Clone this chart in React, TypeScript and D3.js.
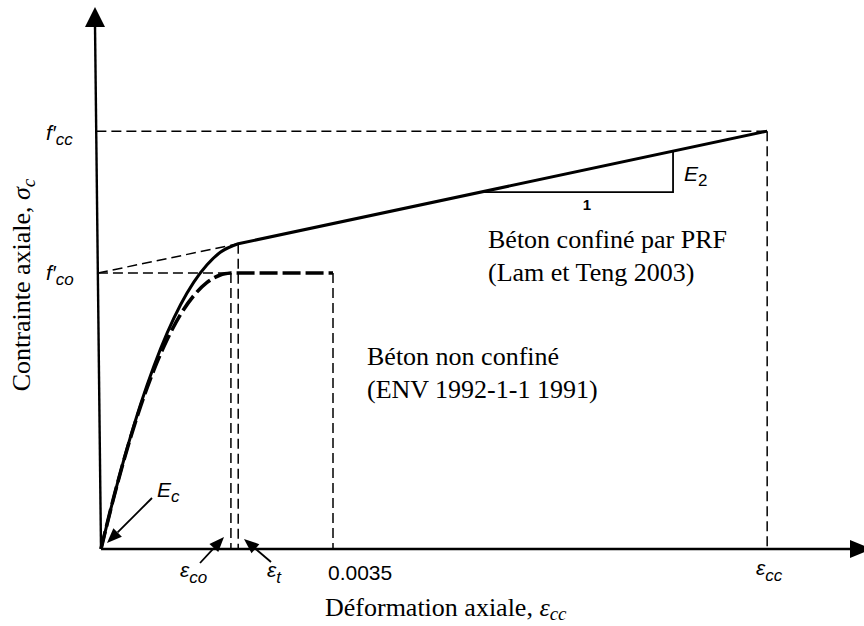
import React from "react";
import * as d3 from "d3";

const W = 864;
const H = 626;

// Confined concrete (Lam & Teng 2003) – strain vs normalized stress (f/f'co)
const confinedStrain = [0, 0.0002, 0.0004, 0.0006, 0.0008, 0.001, 0.0012, 0.0014, 0.0016, 0.0018, 0.00207];
const confinedStress = [0, 0.194, 0.37, 0.526, 0.664, 0.784, 0.885, 0.967, 1.03, 1.075, 1.106];
// Unconfined concrete (ENV 1992-1-1 1991)
const unconfinedStrain = [0, 0.0002, 0.0004, 0.0006, 0.0008, 0.001, 0.0012, 0.0014, 0.0016, 0.0018, 0.00196];
const unconfinedStress = [0, 0.194, 0.367, 0.519, 0.65, 0.76, 0.85, 0.918, 0.966, 0.993, 1.0];

// Key strains / stresses
const epsCo = 0.00196;
const epsT = 0.00207;
const epsU = 0.0035;
const epsCc = 0.01005;
const fco = 1.0;
const fT = 1.106;
const fcc = 1.514;
// slope triangle (E2) : strains and stresses
const triStrain = [0.00574, 0.00863];
const triStress = [1.293, 1.441];

const serif = "'Liberation Serif', 'Times New Roman', serif";
const sans = "'Liberation Sans', Arial, Helvetica, sans-serif";

function Arrow({ x1, y1, x2, y2, w = 1.8 }: { x1: number; y1: number; x2: number; y2: number; w?: number }) {
  const ang = Math.atan2(y2 - y1, x2 - x1);
  const L = 15;
  const hw = 6;
  const bx = x2 - L * Math.cos(ang);
  const by = y2 - L * Math.sin(ang);
  const px = -Math.sin(ang) * hw;
  const py = Math.cos(ang) * hw;
  return (
    <g>
      <line x1={x1} y1={y1} x2={bx} y2={by} stroke="#000" strokeWidth={w} />
      <polygon points={`${x2},${y2} ${bx + px},${by + py} ${bx - px},${by - py}`} fill="#000" />
    </g>
  );
}

export default function App() {
  const x = d3.scaleLinear().domain([0, 0.0035]).range([101, 333]);
  const y = d3.scaleLinear().domain([0, 1]).range([549, 273]);

  const line = d3
    .line<[number, number]>()
    .x((d) => x(d[0]))
    .y((d) => y(d[1]))
    .curve(d3.curveMonotoneX);

  const confPts: [number, number][] = confinedStrain.map((e, i) => [e, confinedStress[i]]);
  const unconfPts: [number, number][] = unconfinedStrain.map((e, i) => [e, unconfinedStress[i]]);

  const confPath = (line(confPts) as string) + `L${x(epsCc)},${y(fcc)}`;
  const unconfPath = (line(unconfPts) as string) + `L${x(epsU)},${y(fco)}`;

  const x0 = x(0);
  const y0 = y(0);
  // y axis (slightly tilted as in the scanned figure)
  const axTopX = x0 - 6;
  const axTopY = 7;
  const axisXAt = (yy: number) => x0 - 6 * (y0 - yy) / (y0 - axTopY);

  const thin = { stroke: "#000", strokeWidth: 1.5, strokeDasharray: "10,5", fill: "none" };

  return (
    <svg
      width={W}
      height={H}
      viewBox={`0 0 ${W} ${H}`}
      style={{ position: "absolute", left: 0, top: 0, background: "#fff" }}
    >
      <rect x={0} y={0} width={W} height={H} fill="#fff" />

      {/* reference dashed lines */}
      <line x1={axisXAt(y(fcc))} y1={y(fcc)} x2={x(epsCc)} y2={y(fcc)} {...thin} />
      <line x1={x(epsCc)} y1={y(fcc)} x2={x(epsCc)} y2={y0} {...thin} />
      <line x1={axisXAt(y(fco))} y1={y(fco)} x2={x(epsCo)} y2={y(fco)} {...thin} />
      <line x1={axisXAt(y(fco))} y1={y(fco)} x2={x(epsT)} y2={y(fT)} {...thin} />
      <line x1={x(epsCo)} y1={y(fco)} x2={x(epsCo)} y2={y0} {...thin} />
      <line x1={x(epsT)} y1={y(fT)} x2={x(epsT)} y2={y0} {...thin} />
      <line x1={x(epsU)} y1={y(fco)} x2={x(epsU)} y2={y0} {...thin} />

      {/* unconfined curve (thick dashed) */}
      <path d={unconfPath} fill="none" stroke="#000" strokeWidth={3.6} strokeDasharray="18,5" />
      {/* confined curve (thick solid) */}
      <path d={confPath} fill="none" stroke="#000" strokeWidth={3} strokeLinejoin="round" />

      {/* slope triangle */}
      <polyline
        points={`${x(triStrain[0])},${y(triStress[0])} ${x(triStrain[1])},${y(triStress[0])} ${x(triStrain[1])},${y(triStress[1])}`}
        fill="none"
        stroke="#000"
        strokeWidth={1.8}
      />
      <text x={587} y={210} fontFamily={sans} fontSize={15} fontWeight="bold" textAnchor="middle">1</text>
      <text x={684} y={181} fontFamily={sans} fontSize={21} fontStyle="italic">
        E<tspan fontSize={17} dy={5} fontStyle="normal">2</tspan>
      </text>

      {/* axes */}
      <line x1={x0} y1={y0} x2={axTopX} y2={axTopY + 18} stroke="#000" strokeWidth={2.4} />
      <polygon points={`${axTopX},${axTopY} ${axTopX - 10},${axTopY + 20} ${axTopX + 10},${axTopY + 20}`} fill="#000" />
      <line x1={x0} y1={y0} x2={W - 12} y2={y0} stroke="#000" strokeWidth={2.6} />
      <polygon points={`${W + 8},${y0} ${W - 14},${y0 - 9} ${W - 14},${y0 + 9}`} fill="#000" />

      {/* y labels */}
      <text x={46} y={140} fontFamily={sans} fontSize={21} fontStyle="italic">
        f′<tspan fontSize={17} dy={5}>cc</tspan>
      </text>
      <text x={46} y={280} fontFamily={sans} fontSize={21} fontStyle="italic">
        f′<tspan fontSize={17} dy={5}>co</tspan>
      </text>

      {/* x labels */}
      <text x={180} y={577} fontFamily={sans} fontSize={21} fontStyle="italic">
        ε<tspan fontSize={17} dy={6}>co</tspan>
      </text>
      <text x={267} y={577} fontFamily={sans} fontSize={21} fontStyle="italic">
        ε<tspan fontSize={17} dy={6}>t</tspan>
      </text>
      <text x={328} y={580} fontFamily={sans} fontSize={21}>0.0035</text>
      <text x={756} y={575} fontFamily={sans} fontSize={21} fontStyle="italic">
        ε<tspan fontSize={17} dy={6}>cc</tspan>
      </text>

      {/* Ec */}
      <text x={157} y={497} fontFamily={sans} fontSize={21} fontStyle="italic">
        E<tspan fontSize={17} dy={5}>c</tspan>
      </text>
      <Arrow x1={152} y1={498} x2={107} y2={543} />
      <Arrow x1={200} y1={563} x2={224} y2={537} />
      <Arrow x1={271} y1={562} x2={244} y2={539} />

      {/* annotations */}
      <text fontFamily={serif} fontSize={26}>
        <tspan x={488} y={248}>Béton confiné par PRF</tspan>
        <tspan x={488} y={281}>(Lam et Teng 2003)</tspan>
      </text>
      <text fontFamily={serif} fontSize={26}>
        <tspan x={367} y={365}>Béton non confiné</tspan>
        <tspan x={367} y={398}>(ENV 1992-1-1 1991)</tspan>
      </text>

      {/* axis titles */}
      <text x={325} y={616} fontFamily={serif} fontSize={26}>
        Déformation axiale,{" "}
        <tspan fontStyle="italic">ε</tspan>
        <tspan fontStyle="italic" fontSize={19} dy={4}>cc</tspan>
      </text>
      <text
        transform="translate(30,285) rotate(-90)"
        textAnchor="middle"
        fontFamily={serif}
        fontSize={26}
      >
        Contrainte axiale,{" "}
        <tspan fontStyle="italic">σ</tspan>
        <tspan fontStyle="italic" fontSize={19} dy={5}>c</tspan>
      </text>
    </svg>
  );
}
